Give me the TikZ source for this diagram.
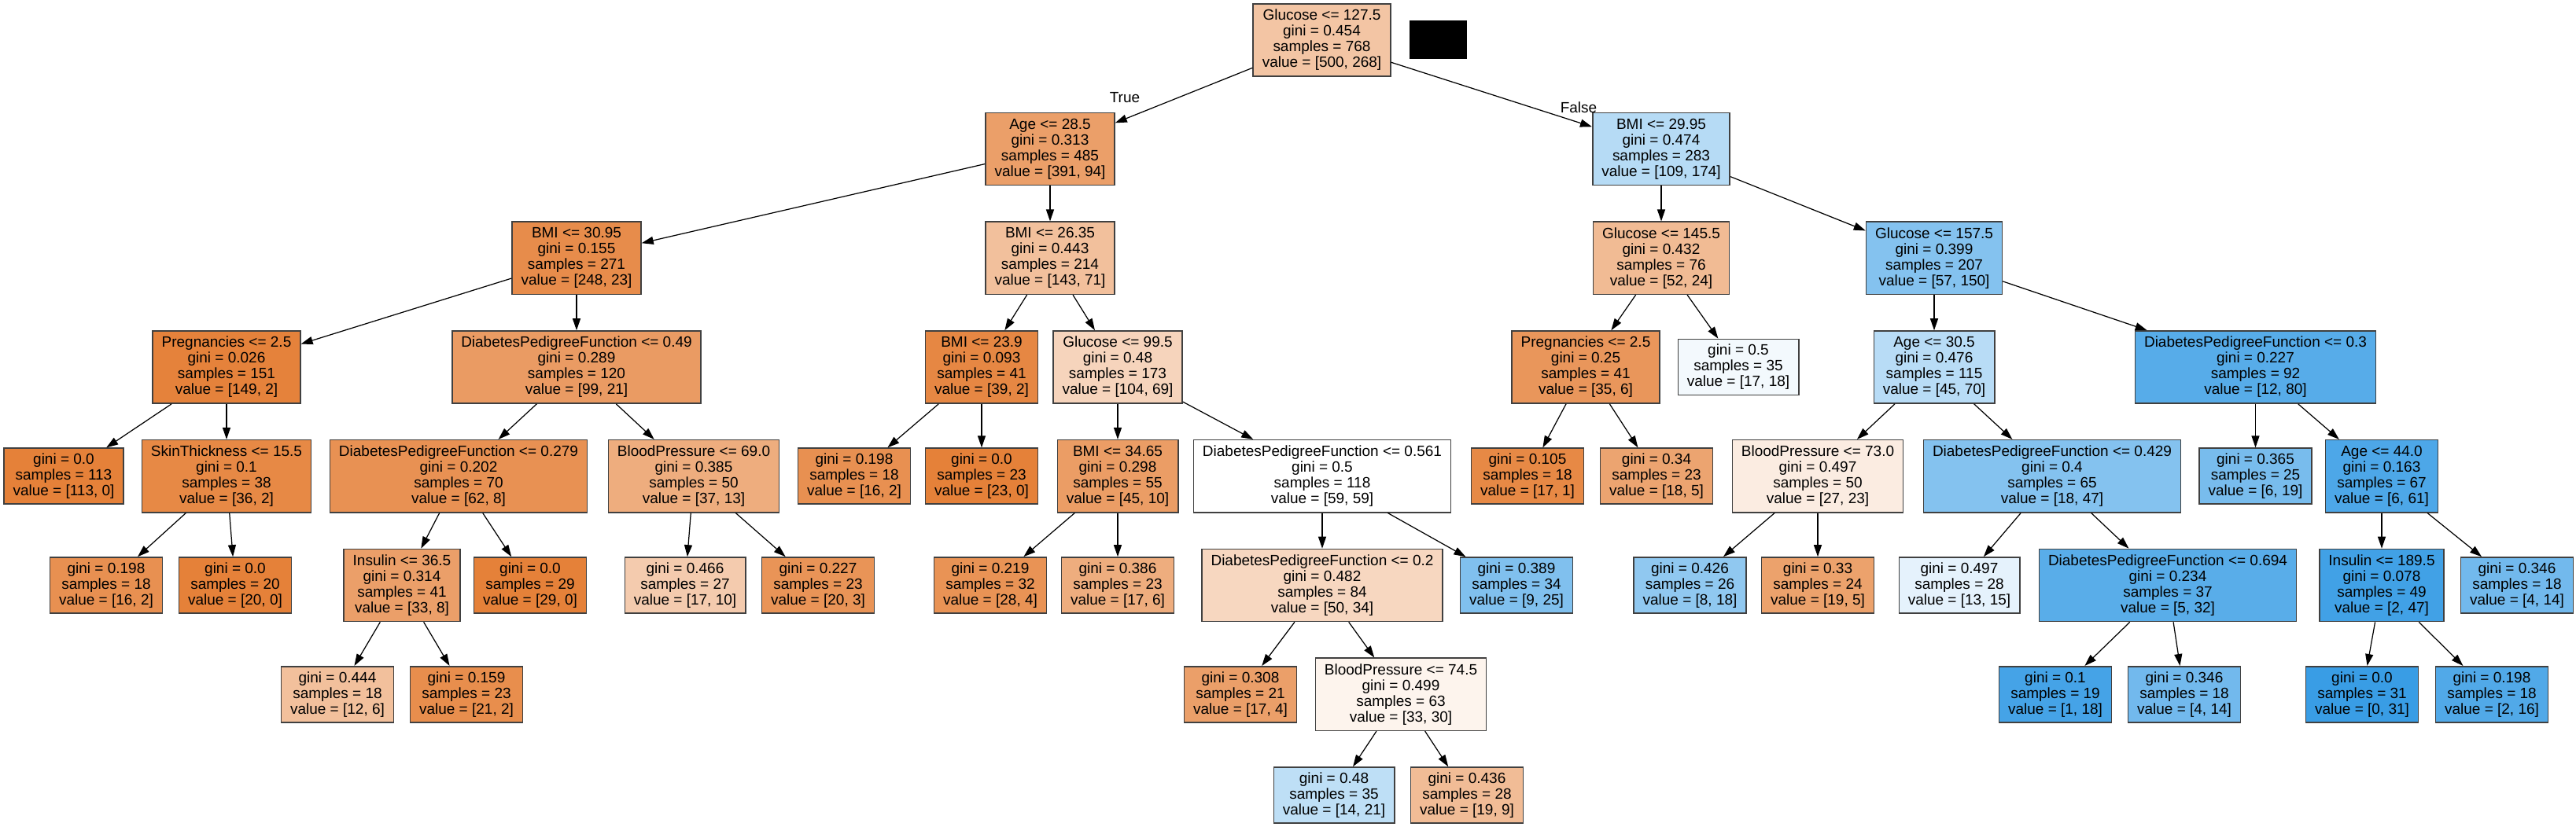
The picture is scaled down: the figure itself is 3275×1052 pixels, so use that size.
\documentclass[tikz,border=0pt]{standalone}
\usepackage{fontspec}
\setmainfont{Liberation Sans}
\usetikzlibrary{arrows.meta}
\definecolor{orng}{HTML}{E58139}
\definecolor{blu}{HTML}{399DE5}
\newcommand{\treefont}{\fontsize{5.4pt}{5.69pt}\selectfont}
\tikzset{
  splitbox/.style={rectangle,draw=black!75,line width=0.45pt,align=center,inner xsep=0.115cm,inner ysep=0.03cm,minimum height=0.92cm,font=\treefont},
  leafbox/.style={splitbox,minimum height=0.71cm},
  branch/.style={-{Triangle[length=0.15cm,width=0.1cm]},line width=0.35pt},
}
\begin{document}
\begin{tikzpicture}[x=0.01cm,y=-0.01cm]
\useasboundingbox[fill=white] (0,0) rectangle (3275,1052);
% rank 0 / 1
\node[splitbox,fill=orng!46] (n0) at (1680.5,51) {Glucose <= 127.5\\gini = 0.454\\samples = 768\\value = [500, 268]};
\node[fill=black,minimum width=0.73cm,minimum height=0.49cm,inner sep=0pt] (mask) at (1828.5,50.5) {};
\node[splitbox,fill=orng!76] (n1) at (1335,189.5) {Age <= 28.5\\gini = 0.313\\samples = 485\\value = [391, 94]};
\node[splitbox,fill=blu!37] (n32) at (2112,189.5) {BMI <= 29.95\\gini = 0.474\\samples = 283\\value = [109, 174]};
% rank 2
\node[splitbox,fill=orng!91] (n2) at (733,328.3) {BMI <= 30.95\\gini = 0.155\\samples = 271\\value = [248, 23]};
\node[splitbox,fill=orng!50] (n17) at (1335,328.3) {BMI <= 26.35\\gini = 0.443\\samples = 214\\value = [143, 71]};
\node[splitbox,fill=orng!54] (n33) at (2112,328.3) {Glucose <= 145.5\\gini = 0.432\\samples = 76\\value = [52, 24]};
\node[splitbox,fill=blu!62] (n38) at (2459,328.3) {Glucose <= 157.5\\gini = 0.399\\samples = 207\\value = [57, 150]};
% rank 3
\node[splitbox,fill=orng!99] (n3) at (288,467) {Pregnancies <= 2.5\\gini = 0.026\\samples = 151\\value = [149, 2]};
\node[splitbox,fill=orng!79] (n8) at (733,467) {DiabetesPedigreeFunction <= 0.49\\gini = 0.289\\samples = 120\\value = [99, 21]};
\node[splitbox,fill=orng!95] (n18) at (1248,467) {BMI <= 23.9\\gini = 0.093\\samples = 41\\value = [39, 2]};
\node[splitbox,fill=orng!34] (n21) at (1421,467) {Glucose <= 99.5\\gini = 0.48\\samples = 173\\value = [104, 69]};
\node[splitbox,fill=orng!83] (n34) at (2016,467) {Pregnancies <= 2.5\\gini = 0.25\\samples = 41\\value = [35, 6]};
\node[leafbox,fill=blu!6] (n37) at (2210,467) {gini = 0.5\\samples = 35\\value = [17, 18]};
\node[splitbox,fill=blu!36] (n39) at (2459,467) {Age <= 30.5\\gini = 0.476\\samples = 115\\value = [45, 70]};
\node[splitbox,fill=blu!85] (n48) at (2867.5,467) {DiabetesPedigreeFunction <= 0.3\\gini = 0.227\\samples = 92\\value = [12, 80]};
% rank 4
\node[leafbox,fill=orng] (n4) at (81,605.7) {gini = 0.0\\samples = 113\\value = [113, 0]};
\node[splitbox,fill=orng!94] (n5) at (288,605.7) {SkinThickness <= 15.5\\gini = 0.1\\samples = 38\\value = [36, 2]};
\node[splitbox,fill=orng!87] (n9) at (583,605.7) {DiabetesPedigreeFunction <= 0.279\\gini = 0.202\\samples = 70\\value = [62, 8]};
\node[splitbox,fill=orng!65] (n14) at (882,605.7) {BloodPressure <= 69.0\\gini = 0.385\\samples = 50\\value = [37, 13]};
\node[leafbox,fill=orng!88] (n19) at (1086,605.7) {gini = 0.198\\samples = 18\\value = [16, 2]};
\node[leafbox,fill=orng] (n20) at (1248,605.7) {gini = 0.0\\samples = 23\\value = [23, 0]};
\node[splitbox,fill=orng!78] (n22) at (1421,605.7) {BMI <= 34.65\\gini = 0.298\\samples = 55\\value = [45, 10]};
\node[splitbox,fill=white] (n25) at (1681,605.7) {DiabetesPedigreeFunction <= 0.561\\gini = 0.5\\samples = 118\\value = [59, 59]};
\node[leafbox,fill=orng!94] (n35) at (1942,605.7) {gini = 0.105\\samples = 18\\value = [17, 1]};
\node[leafbox,fill=orng!72] (n36) at (2106,605.7) {gini = 0.34\\samples = 23\\value = [18, 5]};
\node[splitbox,fill=orng!15] (n40) at (2311,605.7) {BloodPressure <= 73.0\\gini = 0.497\\samples = 50\\value = [27, 23]};
\node[splitbox,fill=blu!62] (n43) at (2609,605.7) {DiabetesPedigreeFunction <= 0.429\\gini = 0.4\\samples = 65\\value = [18, 47]};
\node[leafbox,fill=blu!68] (n49) at (2867.5,605.7) {gini = 0.365\\samples = 25\\value = [6, 19]};
\node[splitbox,fill=blu!90] (n50) at (3028,605.7) {Age <= 44.0\\gini = 0.163\\samples = 67\\value = [6, 61]};
% rank 5
\node[leafbox,fill=orng!88] (n6) at (135,744.5) {gini = 0.198\\samples = 18\\value = [16, 2]};
\node[leafbox,fill=orng] (n7) at (299,744.5) {gini = 0.0\\samples = 20\\value = [20, 0]};
\node[splitbox,fill=orng!76] (n10) at (511,744.5) {Insulin <= 36.5\\gini = 0.314\\samples = 41\\value = [33, 8]};
\node[leafbox,fill=orng] (n13) at (674,744.5) {gini = 0.0\\samples = 29\\value = [29, 0]};
\node[leafbox,fill=orng!41] (n15) at (871,744.5) {gini = 0.466\\samples = 27\\value = [17, 10]};
\node[leafbox,fill=orng!85] (n16) at (1040,744.5) {gini = 0.227\\samples = 23\\value = [20, 3]};
\node[leafbox,fill=orng!86] (n23) at (1259,744.5) {gini = 0.219\\samples = 32\\value = [28, 4]};
\node[leafbox,fill=orng!65] (n24) at (1421,744.5) {gini = 0.386\\samples = 23\\value = [17, 6]};
\node[splitbox,fill=orng!32] (n26) at (1681,744.5) {DiabetesPedigreeFunction <= 0.2\\gini = 0.482\\samples = 84\\value = [50, 34]};
\node[leafbox,fill=blu!64] (n31) at (1928,744.5) {gini = 0.389\\samples = 34\\value = [9, 25]};
\node[leafbox,fill=blu!56] (n41) at (2148.5,744.5) {gini = 0.426\\samples = 26\\value = [8, 18]};
\node[leafbox,fill=orng!74] (n42) at (2311,744.5) {gini = 0.33\\samples = 24\\value = [19, 5]};
\node[leafbox,fill=blu!13] (n44) at (2491,744.5) {gini = 0.497\\samples = 28\\value = [13, 15]};
\node[splitbox,fill=blu!84] (n45) at (2756,744.5) {DiabetesPedigreeFunction <= 0.694\\gini = 0.234\\samples = 37\\value = [5, 32]};
\node[splitbox,fill=blu!96] (n51) at (3028,744.5) {Insulin <= 189.5\\gini = 0.078\\samples = 49\\value = [2, 47]};
\node[leafbox,fill=blu!71] (n54) at (3200,744.5) {gini = 0.346\\samples = 18\\value = [4, 14]};
% rank 6
\node[leafbox,fill=orng!50] (n11) at (429,883.3) {gini = 0.444\\samples = 18\\value = [12, 6]};
\node[leafbox,fill=orng!90] (n12) at (593,883.3) {gini = 0.159\\samples = 23\\value = [21, 2]};
\node[leafbox,fill=orng!76] (n27) at (1577,883.3) {gini = 0.308\\samples = 21\\value = [17, 4]};
\node[splitbox,fill=orng!9] (n28) at (1781,883.3) {BloodPressure <= 74.5\\gini = 0.499\\samples = 63\\value = [33, 30]};
\node[leafbox,fill=blu!94] (n46) at (2613,883.3) {gini = 0.1\\samples = 19\\value = [1, 18]};
\node[leafbox,fill=blu!71] (n47) at (2777,883.3) {gini = 0.346\\samples = 18\\value = [4, 14]};
\node[leafbox,fill=blu] (n52) at (3003,883.3) {gini = 0.0\\samples = 31\\value = [0, 31]};
\node[leafbox,fill=blu!88] (n53) at (3168,883.3) {gini = 0.198\\samples = 18\\value = [2, 16]};
% rank 7
\node[leafbox,fill=blu!33] (n29) at (1696,1011.5) {gini = 0.48\\samples = 35\\value = [14, 21]};
\node[leafbox,fill=orng!53] (n30) at (1865,1011.5) {gini = 0.436\\samples = 28\\value = [19, 9]};

\node[font=\treefont,inner sep=0pt] (lblT) at (1430,124) {True};
\node[font=\treefont,inner sep=0pt] (lblF) at (2007,137) {False};

\draw[branch] (n0) edge (n1);
\draw[branch] (n0) edge (n32);
\draw[branch] (n1) edge (n2);
\draw[branch] (n1) edge (n17);
\draw[branch] (n2) edge (n3);
\draw[branch] (n2) edge (n8);
\draw[branch] (n3) edge (n4);
\draw[branch] (n3) edge (n5);
\draw[branch] (n5) edge (n6);
\draw[branch] (n5) edge (n7);
\draw[branch] (n8) edge (n9);
\draw[branch] (n8) edge (n14);
\draw[branch] (n9) edge (n10);
\draw[branch] (n9) edge (n13);
\draw[branch] (n10) edge (n11);
\draw[branch] (n10) edge (n12);
\draw[branch] (n14) edge (n15);
\draw[branch] (n14) edge (n16);
\draw[branch] (n17) edge (n18);
\draw[branch] (n17) edge (n21);
\draw[branch] (n18) edge (n19);
\draw[branch] (n18) edge (n20);
\draw[branch] (n21) edge (n22);
\draw[branch] (n21) edge (n25);
\draw[branch] (n22) edge (n23);
\draw[branch] (n22) edge (n24);
\draw[branch] (n25) edge (n26);
\draw[branch] (n25) edge (n31);
\draw[branch] (n26) edge (n27);
\draw[branch] (n26) edge (n28);
\draw[branch] (n28) edge (n29);
\draw[branch] (n28) edge (n30);
\draw[branch] (n32) edge (n33);
\draw[branch] (n32) edge (n38);
\draw[branch] (n33) edge (n34);
\draw[branch] (n33) edge (n37);
\draw[branch] (n34) edge (n35);
\draw[branch] (n34) edge (n36);
\draw[branch] (n38) edge (n39);
\draw[branch] (n38) edge (n48);
\draw[branch] (n39) edge (n40);
\draw[branch] (n39) edge (n43);
\draw[branch] (n40) edge (n41);
\draw[branch] (n40) edge (n42);
\draw[branch] (n43) edge (n44);
\draw[branch] (n43) edge (n45);
\draw[branch] (n45) edge (n46);
\draw[branch] (n45) edge (n47);
\draw[branch] (n48) edge (n49);
\draw[branch] (n48) edge (n50);
\draw[branch] (n50) edge (n51);
\draw[branch] (n50) edge (n54);
\draw[branch] (n51) edge (n52);
\draw[branch] (n51) edge (n53);
\end{tikzpicture}
\end{document}
